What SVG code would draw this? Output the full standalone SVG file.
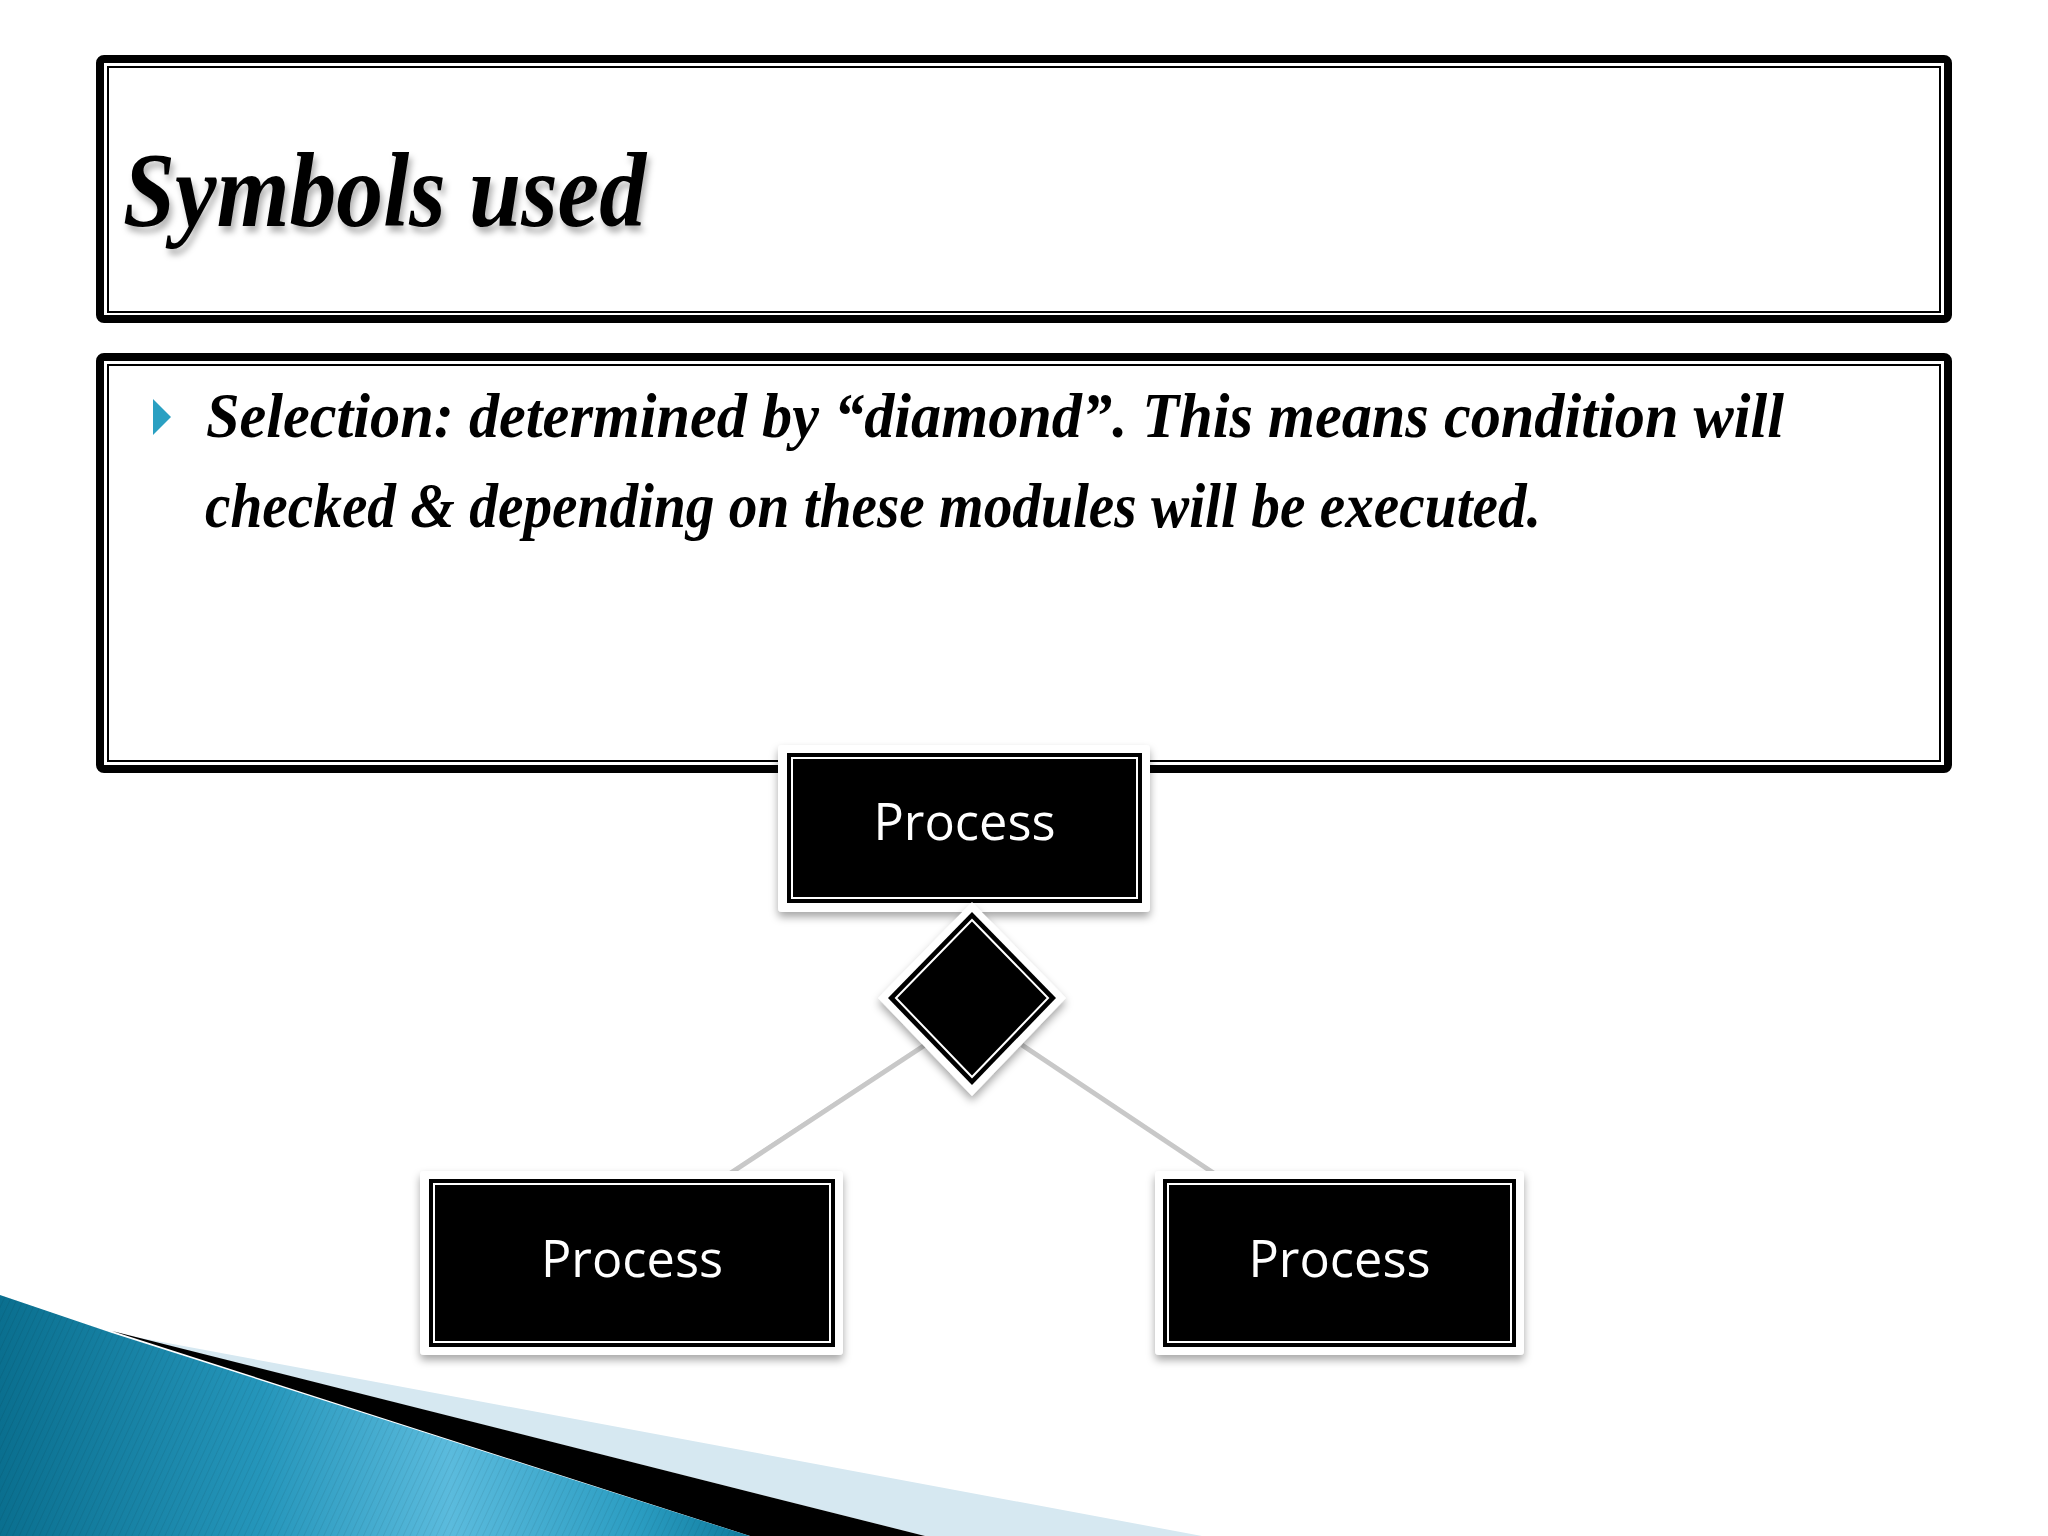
<svg xmlns="http://www.w3.org/2000/svg" width="2048" height="1536" viewBox="0 0 2048 1536">
<defs>
<style>
.frameThick{fill:none;stroke:#000;stroke-width:8}
.frameThin{fill:none;stroke:#000;stroke-width:2}
.boxFrame{fill:#fff}
.boxBody{fill:#000}
.boxLine{fill:none;stroke:#fff;stroke-width:2}
.lbl{font-family:"Open Sans","Noto Sans",sans-serif;font-size:52px;fill:#fff;text-anchor:middle}
.script{font-family:"Liberation Serif","DejaVu Serif",serif;font-style:italic;font-weight:bold;fill:#000}
.conn{stroke:#c8c8c8;stroke-width:5;fill:none}
.connHi{stroke:#fff;stroke-width:2;fill:none}
</style>
<filter id="shadow" x="-20%" y="-20%" width="140%" height="150%">
<feDropShadow dx="0" dy="5" stdDeviation="4" flood-color="#000" flood-opacity="0.35"/>
</filter>
<filter id="tshadow" x="-10%" y="-20%" width="120%" height="150%">
<feDropShadow dx="3" dy="6" stdDeviation="3" flood-color="#000" flood-opacity="0.3"/>
</filter>
<linearGradient id="blueGrad" x1="0" y1="0" x2="1" y2="0">
<stop offset="0" stop-color="#0a6f8f"/>
<stop offset="0.35" stop-color="#2596bb"/>
<stop offset="0.6" stop-color="#5bbbdd"/>
<stop offset="0.85" stop-color="#2b9dc2"/>
<stop offset="1" stop-color="#0e7b9d"/>
</linearGradient>
<pattern id="stripes" width="6" height="6" patternUnits="userSpaceOnUse" patternTransform="rotate(25)">
<rect width="6" height="6" fill="none"/>
<line x1="0" y1="0" x2="0" y2="6" stroke="#000" stroke-opacity="0.07" stroke-width="2"/>
</pattern>
</defs>
<rect width="2048" height="1536" fill="#fff"/>

<g id="background-swoosh">
<polygon points="130,1336 1202,1536 925,1536" fill="#d6e8f1"/>
<polygon points="112,1331 925,1536 750,1536" fill="#000"/>
<polygon points="0,1295 112,1333 750,1536 0,1536" fill="url(#blueGrad)"/>
<polygon points="0,1295 112,1333 750,1536 0,1536" fill="url(#stripes)"/>
</g>

<g id="title-box">
<rect class="frameThick" x="100" y="59" width="1848" height="260" rx="4"/>
<rect class="frameThin" x="108" y="67" width="1832" height="245"/>
<text class="script" x="123" y="226" font-size="105" textLength="523" lengthAdjust="spacingAndGlyphs" filter="url(#tshadow)">Symbols used</text>
</g>

<g id="content-box">
<rect class="frameThick" x="100" y="357" width="1848" height="412" rx="4"/>
<rect class="frameThin" x="108" y="365" width="1832" height="396"/>
<polygon points="153,399 153,435 171,417" fill="#2aa0c2"/>
<text class="script" x="206" y="437" font-size="64" textLength="1578" lengthAdjust="spacingAndGlyphs">Selection: determined by “diamond”. This means condition will</text>
<text class="script" x="205" y="527" font-size="64" textLength="1336" lengthAdjust="spacingAndGlyphs">checked &amp; depending on these modules will be executed.</text>
</g>

<g id="connectors">
<line class="conn" x1="925" y1="1045" x2="720" y2="1180"/>
<line class="connHi" x1="921" y1="1043" x2="716" y2="1178"/>
<line class="conn" x1="1022" y1="1045" x2="1224" y2="1180"/>
<line class="connHi" x1="1026" y1="1043" x2="1228" y2="1178"/>
</g>

<g id="node-process-top">
<rect class="boxFrame" x="778" y="745" width="372" height="167" rx="4" filter="url(#shadow)"/>
<rect class="boxBody" x="787" y="753" width="355" height="150"/>
<rect class="boxLine" x="792" y="758" width="345" height="140"/>
<text class="lbl" x="964.5" y="840" textLength="182" lengthAdjust="spacingAndGlyphs">Process</text>
</g>

<g id="node-diamond">
<polygon points="972,902 1066,998 972,1096 878,998" fill="#fff" filter="url(#shadow)"/>
<polygon points="972,912 1056,998 972,1085 888,998" fill="#000"/>
<polygon points="972,920 1048,998 972,1077 896,998" fill="none" stroke="#fff" stroke-width="2"/>
</g>

<g id="node-process-left">
<rect class="boxFrame" x="420" y="1171" width="423" height="184" rx="4" filter="url(#shadow)"/>
<rect class="boxBody" x="429" y="1179" width="406" height="168"/>
<rect class="boxLine" x="434" y="1184" width="396" height="158"/>
<text class="lbl" x="632" y="1277" textLength="182" lengthAdjust="spacingAndGlyphs">Process</text>
</g>

<g id="node-process-right">
<rect class="boxFrame" x="1155" y="1171" width="369" height="184" rx="4" filter="url(#shadow)"/>
<rect class="boxBody" x="1163" y="1179" width="353" height="168"/>
<rect class="boxLine" x="1168" y="1184" width="343" height="158"/>
<text class="lbl" x="1339.5" y="1277" textLength="182" lengthAdjust="spacingAndGlyphs">Process</text>
</g>
</svg>
